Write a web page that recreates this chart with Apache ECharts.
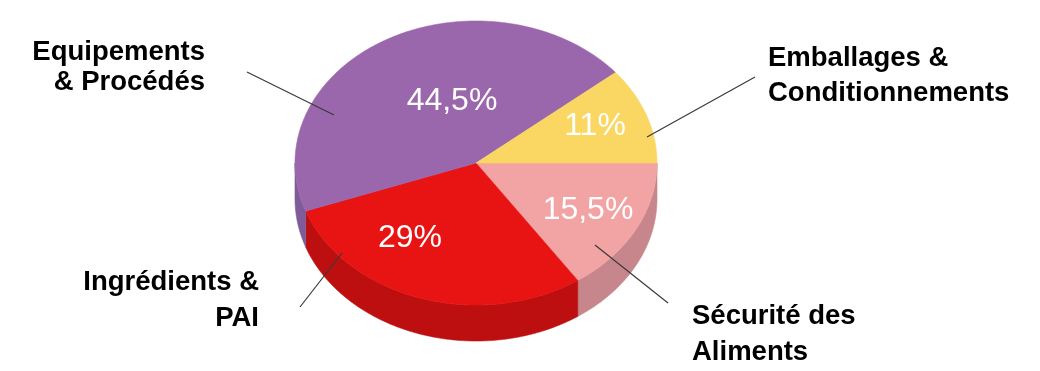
<!DOCTYPE html>
<html><head><meta charset="utf-8">
<script src="https://cdn.jsdelivr.net/npm/echarts@6/dist/echarts.min.js"></script>
<style>html,body{margin:0;padding:0;background:#fff}#c{width:1040px;height:371px}</style>
</head><body><div id="c"></div>
<script>
// ---- data (slices clockwise from 3 o'clock) ----
const categories = ['Sécurité des\nAliments', 'Ingrédients &\nPAI', 'Equipements\n& Procédés', 'Emballages &\nConditionnements'];
const values = [15.5, 29, 44.5, 11];
const percentLabels = values.map(v => String(v).replace('.', ',') + '%');

// ---- styles ----
const topColors  = ['#f2a3a4', '#e81313', '#9a67ad', '#f9d762'];
const sideColors = ['#c7868b', '#bd0f0f', '#7f5c98', '#d4b24a'];

// ---- layout ----
const PIE = { cx: 476, cy: 163, rx: 181, ry: 142, depth: 36 };
const innerLabelPos = [[588, 210], [410, 238], [452, 101], [595, 126]];
const outerLabelPos = [
  { x: 692, y: 316, gap: 36.5, align: 'left' },
  { x: 259, y: 282.5, gap: 36, align: 'right' },
  { x: 205, y: 52.5, gap: 30, align: 'right' },
  { x: 768, y: 58, gap: 35, align: 'left' }
];
const leaderLines = [
  [[595, 245], [668, 303]],
  [[342, 253], [300, 307]],
  [[334, 115], [247, 72]],
  [[647, 137], [755, 77]]
];
const FONT = '"Liberation Sans", Arial, Helvetica, sans-serif';

const total = values.reduce((a, b) => a + b, 0);
function P(t, dy) {
  const r = t * Math.PI / 180;
  return [PIE.cx + PIE.rx * Math.cos(r), PIE.cy + PIE.ry * Math.sin(r) + (dy || 0)];
}

function renderItem(params, api) {
  const i = params.dataIndex;
  let before = 0;
  for (let k = 0; k < i; k++) before += values[k];
  const v = api.value(0);
  const a0 = before / total * 360, a1 = (before + v) / total * 360;
  const children = [];
  // front side wall (visible between 0 and 180 deg)
  const s = Math.max(a0, 0), e = Math.min(a1, 180);
  if (e > s) {
    const pts = [];
    for (let t = s; t < e; t += 0.5) pts.push(P(t));
    pts.push(P(e));
    for (let t = e; t > s; t -= 0.5) pts.push(P(t, PIE.depth));
    pts.push(P(s, PIE.depth));
    children.push({ type: 'polygon', shape: { points: pts },
      style: { fill: sideColors[i], stroke: sideColors[i], lineWidth: 0.6 } });
  }
  // top face
  const top = [[PIE.cx, PIE.cy]];
  for (let t = a0; t < a1; t += 0.5) top.push(P(t));
  top.push(P(a1));
  children.push({ type: 'polygon', shape: { points: top },
    style: { fill: topColors[i], stroke: topColors[i], lineWidth: 0.6 } });
  // leader line
  const L = leaderLines[i];
  children.push({ type: 'line', z2: 10, shape: { x1: L[0][0], y1: L[0][1], x2: L[1][0], y2: L[1][1] },
    style: { stroke: '#3a3a3a', lineWidth: 1.2 } });
  // inner percent label
  children.push({ type: 'text', z2: 11, x: innerLabelPos[i][0], y: innerLabelPos[i][1],
    style: { text: percentLabels[i], fill: '#ffffff', align: 'center', verticalAlign: 'middle',
      font: '32px ' + FONT } });
  // outer category label
  const o = outerLabelPos[i];
  categories[i].split('\n').forEach((line, j) => {
    children.push({ type: 'text', z2: 11, x: o.x, y: o.y + j * o.gap,
      style: { text: line, fill: '#000000', align: o.align, verticalAlign: 'middle',
        font: 'bold 27.5px ' + FONT } });
  });
  return { type: 'group', children: children };
}

const chart = echarts.init(document.getElementById('c'), null, { renderer: 'canvas' });
chart.setOption({
  backgroundColor: '#ffffff',
  animation: false,
  series: [{
    type: 'custom',
    coordinateSystem: 'none',
    renderItem: renderItem,
    data: values.map((v, i) => ({ name: categories[i], value: [v] }))
  }]
});
</script>
</body></html>
